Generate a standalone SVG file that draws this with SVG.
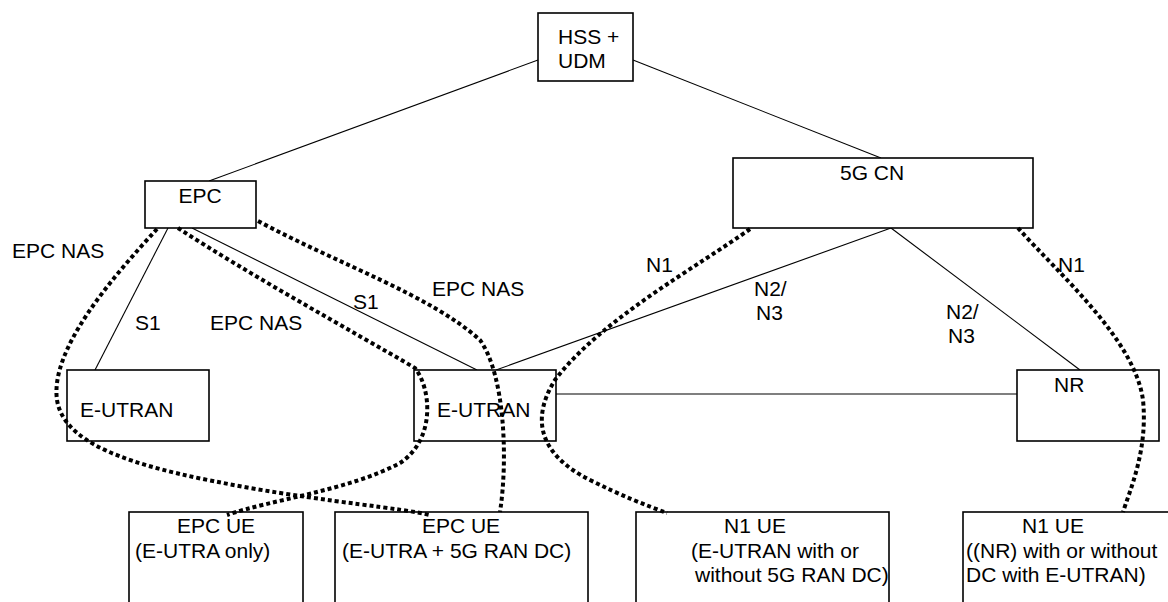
<svg xmlns="http://www.w3.org/2000/svg" width="1168" height="602" viewBox="0 0 1168 602">
<style>
.box{fill:#fff;stroke:#000;stroke-width:1.6}
.ln{fill:none;stroke:#000;stroke-width:1.1}
.dot{fill:none;stroke:#000;stroke-width:4;stroke-dasharray:4 3}
text{font-family:"Liberation Sans",Arial,sans-serif;font-size:21px;fill:#000}
</style>
<rect width="1168" height="602" fill="#fff"/>
<g id="connectors">
<line class="ln" x1="538" y1="60" x2="209" y2="181"/>
<line class="ln" x1="633" y1="60" x2="881" y2="158"/>
<line class="ln" x1="168" y1="228" x2="95" y2="370"/>
<line class="ln" x1="192" y1="228" x2="477" y2="370"/>
<line class="ln" x1="891" y1="228" x2="496" y2="370"/>
<line class="ln" x1="891" y1="228" x2="1080" y2="370"/>
<line class="ln" x1="556" y1="394" x2="1017" y2="394"/>
</g>
<g id="hss-udm"><rect class="box" x="538" y="13" width="95" height="68"/><text x="558" y="44">HSS +</text><text x="558" y="68">UDM</text></g>
<g id="epc"><rect class="box" x="145" y="181" width="111" height="47"/><text x="200" y="203" text-anchor="middle">EPC</text></g>
<g id="cn5g"><rect class="box" x="733" y="158" width="300" height="70"/><text x="840" y="180">5G CN</text></g>
<g id="eutran-left"><rect class="box" x="67" y="370" width="142" height="71"/><text x="80" y="417">E-UTRAN</text></g>
<g id="eutran-mid"><rect class="box" x="414" y="370" width="142" height="71"/><text x="437" y="417">E-UTRAN</text></g>
<g id="nr"><rect class="box" x="1017" y="370" width="142" height="71"/><text x="1054" y="392">NR</text></g>
<g id="ue1"><rect class="box" x="129" y="512" width="174" height="110"/><text x="216" y="533" text-anchor="middle">EPC UE</text><text x="135" y="558">(E-UTRA only)</text></g>
<g id="ue2"><rect class="box" x="335" y="512" width="253" height="110"/><text x="461" y="533" text-anchor="middle">EPC UE</text><text x="342" y="558">(E-UTRA + 5G RAN DC)</text></g>
<g id="ue3"><rect class="box" x="636" y="512" width="253" height="110"/><text x="755" y="533" text-anchor="middle">N1 UE</text><text x="691" y="558">(E-UTRAN with or</text><text x="695" y="582">without 5G RAN DC)</text></g>
<g id="ue4"><rect class="box" x="963" y="512" width="230" height="110"/><text x="1053" y="533" text-anchor="middle">N1 UE</text><text x="966" y="558">((NR) with or without</text><text x="966" y="582">DC with E-UTRAN)</text></g>
<g id="nas-paths">
<path class="dot" d="M157,229 C110,280 50,350 57,400 C65,450 150,470 250,488 C330,502 400,508 430,515"/>
<path class="dot" d="M178,228 C250,275 350,330 415,368 C432,390 435,440 400,463 C350,490 270,500 227,515"/>
<path class="dot" d="M258,221 C340,265 430,295 480,340 C505,375 508,460 500,512"/>
<path class="dot" d="M750,229 C700,265 600,320 555,380 C530,420 540,455 590,480 C620,495 645,505 667,513"/>
<path class="dot" d="M1018,228 C1060,275 1135,340 1143,400 C1148,450 1130,490 1123,512"/>
</g>
<g id="labels">
<text x="12" y="258">EPC NAS</text>
<text x="135" y="330">S1</text>
<text x="210" y="330">EPC NAS</text>
<text x="353" y="309">S1</text>
<text x="432" y="296">EPC NAS</text>
<text x="646" y="272">N1</text>
<text x="754" y="296">N2/</text>
<text x="756" y="320">N3</text>
<text x="946" y="319">N2/</text>
<text x="948" y="343">N3</text>
<text x="1058" y="272">N1</text>
</g>
</svg>
